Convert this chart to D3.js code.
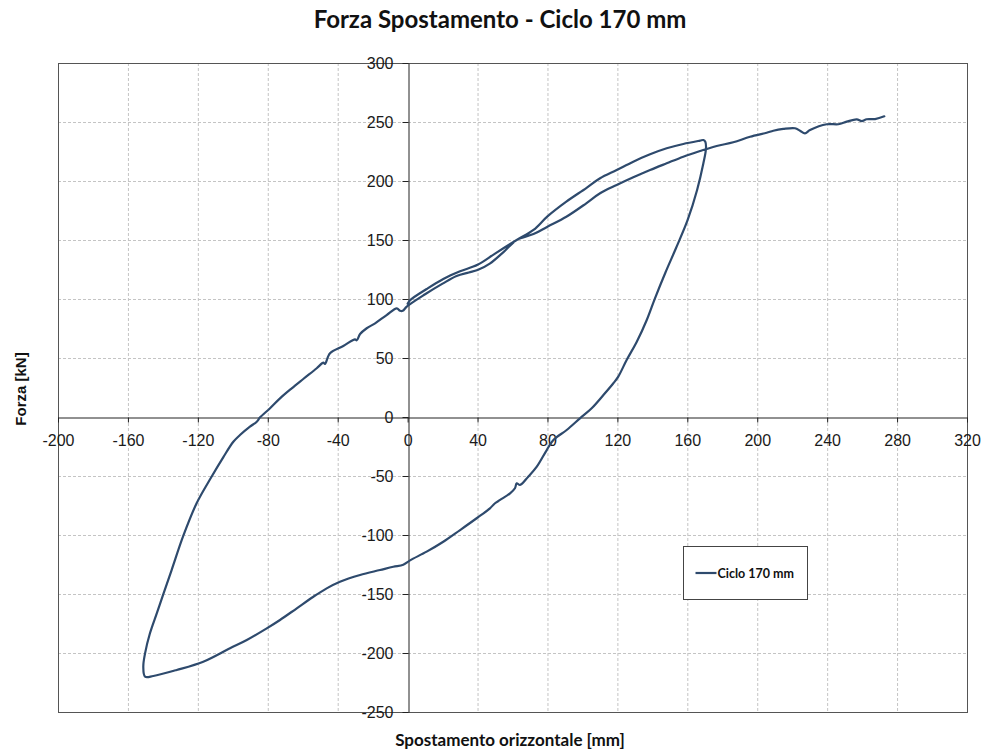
<!DOCTYPE html>
<html>
<head>
<meta charset="utf-8">
<script src="https://cdn.jsdelivr.net/npm/d3@7"></script>
<style>
  html, body { margin: 0; padding: 0; background: #fff; }
  svg { display: block; }
</style>
</head>
<body>
<svg id="chart" width="985" height="751"></svg>
<script>
// Axis ranges and tick values
const xTicks = [-200, -160, -120, -80, -40, 0, 40, 80, 120, 160, 200, 240, 280, 320];
const yTicks = [-250, -200, -150, -100, -50, 0, 50, 100, 150, 200, 250, 300];

const chartTitle = "Forza Spostamento - Ciclo 170 mm";
const xTitle = "Spostamento orizzontale [mm]";
const yTitle = "Forza [kN]";
const seriesName = "Ciclo 170 mm";

// Displacement [mm] of the recorded cycle, in acquisition order
const displacement = [
  0, 1.4, 10.9, 20.4, 30, 40, 50, 62.4, 72, 80, 90.8, 102.2, 110.1, 119.6, 129.1, 138.7, 148.2, 157.7, 167.3, 169.2, 170.3,
  170.7, 169.2, 165.6, 160.2, 153.5, 147.5, 141.5, 136.8, 131.1, 125.3, 120.5, 117.7, 112, 105.3, 98.6, 91, 83.4, 79.6, 73.9,
  69, 64.3, 62.4, 61.4, 58.6, 52.9, 50, 47.1, 39.5, 30, 20.4, 10.9, 1.4, -2.5, -8.2, -15.8, -27.2, -38.7, -46.3, -53.9,
  -63.4, -73, -80.6, -92, -101.6, -116.9, -132.1, -145.5, -150.2, -151.2, -150.2, -147.4, -143.5, -139.8, -135, -128.3,
  -120.7, -112.5, -105.4, -99.7, -95.9, -90.2, -86.3, -84.4, -78.7, -73, -66.3, -59.7, -52, -48.2, -47.3, -44.4, -36.8, -30.1,
  -29.1, -27.2, -23.4, -18.6, -12, -6.2, -4.3, -2.8, -0.5,
  10, 20, 28, 35, 40, 47, 55, 62.4, 72, 80, 90.8, 102.2, 110.1, 119.6, 129.1, 138.7, 148.2, 157.7, 167.3, 176.8, 186.3,
  195.9, 205.4, 209.2, 214.9, 221.6, 224.5, 227.3, 230.2, 239.8, 246.4, 251.2, 256.9, 259.8, 262.6, 267.4, 272.7
];

// Force [kN] measured at each displacement above
const force = [
  96, 99, 108.5, 117, 123.5, 129, 138.5, 150, 158.5, 170, 182.5, 194, 202.3, 209.3, 216.4, 222.6, 227.7, 231.4, 234.2, 234.7, 233.3,
  227.7, 215, 192.4, 167, 143, 122.5, 100.6, 82.2, 63.8, 48.3, 34.2, 28.6, 18.6, 7.4, -1.1, -11, -19.5, -28, -42.1,
  -50.6, -57.6, -56.2, -60.4, -64.7, -70.3, -73.1, -77.4, -85.8, -95.8, -105.7, -114.1, -121.5, -125.2, -126.9, -129.7, -133.9, -139.6, -145.2, -152.3,
  -162.1, -172, -179.1, -189, -196, -207.4, -214.4, -219.5, -220.1, -211.6, -200.3, -183.3, -166.4, -150.3, -129.7, -100.6,
  -73.1, -51.5, -34, -21, -15.3, -8.2, -4, -0.3, 7.4, 15.8, 24.3, 32.2, 41.3, 46, 45, 54, 60.2, 65.8,
  65, 70.3, 75.2, 79.4, 86.4, 92.1, 90, 90, 93.5,
  104, 113, 119.5, 122.5, 124.5, 130, 140, 150, 155, 161.3, 169.7, 181.1, 189.6, 196.6, 203.1, 209.3, 215, 220.6, 225.4, 229.7, 232.8,
  237.5, 240.9, 242.6, 244.1, 244.7, 242.6, 240.4, 243.2, 248.1, 248.1, 250.3, 252.3, 250.8, 252.3, 252.5, 254.8
];

const lineColor = "#2e4a6d";
const plot = { left: 58, right: 967, top: 63, bottom: 712 };

const svg = d3.select("#chart");

const x = d3.scaleLinear().domain([-200, 320]).range([plot.left, plot.right]);
const y = d3.scaleLinear().domain([-250, 300]).range([plot.bottom, plot.top]);

// Dashed grid
const grid = svg.append("g");
grid.selectAll("line.gx")
  .data(xTicks.filter(d => d > -200 && d < 320 && d !== 0))
  .join("line")
  .attr("x1", d => x(d) + 0.5).attr("x2", d => x(d) + 0.5)
  .attr("y1", plot.top).attr("y2", plot.bottom)
  .attr("stroke", "#c4c4c4").attr("stroke-width", 1).attr("stroke-dasharray", "3,2");
grid.selectAll("line.gy")
  .data(yTicks.filter(d => d > -250 && d < 300 && d !== 0))
  .join("line")
  .attr("x1", plot.left).attr("x2", plot.right)
  .attr("y1", d => Math.round(y(d)) + 0.5).attr("y2", d => Math.round(y(d)) + 0.5)
  .attr("stroke", "#c4c4c4").attr("stroke-width", 1).attr("stroke-dasharray", "3,2");

// Plot frame
svg.append("rect")
  .attr("x", plot.left + 0.5).attr("y", plot.top + 0.5)
  .attr("width", plot.right - plot.left).attr("height", plot.bottom - plot.top)
  .attr("fill", "none").attr("stroke", "#555").attr("stroke-width", 1);

// Axes crossing at the origin (plain hyphen for negative labels)
const tickFont = "'Liberation Sans', Arial, sans-serif";
const plain = d => String(d);
const xAxis = d3.axisBottom(x).tickValues(xTicks).tickFormat(plain).tickSize(5).tickPadding(12).tickSizeOuter(0);
const yAxis = d3.axisLeft(y).tickValues(yTicks).tickFormat(plain).tickSize(6).tickPadding(9).tickSizeOuter(0);

const gx = svg.append("g")
  .attr("transform", `translate(0,${Math.round(y(0)) + 0.5})`)
  .call(xAxis);
const gy = svg.append("g")
  .attr("transform", `translate(${Math.round(x(0)) + 0.5},0)`)
  .call(yAxis);

[gx, gy].forEach(g => {
  g.select(".domain").attr("stroke", "#222").attr("stroke-width", 1);
  g.selectAll(".tick line").attr("stroke", "#222");
  g.selectAll(".tick text")
    .attr("font-family", tickFont).attr("font-size", 16).attr("fill", "#1a1a1a");
});

// Force-displacement curve
const points = displacement.map((d, i) => [d, force[i]]);
const line = d3.line().x(d => x(d[0])).y(d => y(d[1])).curve(d3.curveCatmullRom.alpha(0.5));
svg.append("path")
  .datum(points)
  .attr("d", line)
  .attr("fill", "none")
  .attr("stroke", lineColor)
  .attr("stroke-width", 2.2)
  .attr("stroke-linejoin", "round")
  .attr("stroke-linecap", "round");

// Titles
const titleFont = "Lato, 'Open Sans', sans-serif";
svg.append("text")
  .attr("x", 500).attr("y", 28)
  .attr("text-anchor", "middle")
  .attr("font-family", titleFont).attr("font-weight", "bold").attr("font-size", 24)
  .attr("fill", "#111")
  .text(chartTitle);

svg.append("text")
  .attr("x", 510).attr("y", 746)
  .attr("text-anchor", "middle")
  .attr("font-family", titleFont).attr("font-weight", "bold").attr("font-size", 17)
  .attr("fill", "#111")
  .text(xTitle);

svg.append("text")
  .attr("transform", "translate(26,389) rotate(-90)")
  .attr("text-anchor", "middle")
  .attr("font-family", tickFont).attr("font-weight", "bold").attr("font-size", 15)
  .attr("fill", "#111")
  .text(yTitle);

// Legend
const legend = svg.append("g").attr("transform", "translate(683.5,546.5)");
legend.append("rect")
  .attr("width", 124).attr("height", 53)
  .attr("fill", "#fff").attr("stroke", "#444").attr("stroke-width", 1);
legend.append("line")
  .attr("x1", 12).attr("x2", 33).attr("y1", 26.5).attr("y2", 26.5)
  .attr("stroke", lineColor).attr("stroke-width", 2.2);
legend.append("text")
  .attr("x", 34).attr("y", 31)
  .attr("font-family", titleFont).attr("font-weight", "bold").attr("font-size", 12.5)
  .attr("fill", "#111")
  .text(seriesName);
</script>
</body>
</html>
